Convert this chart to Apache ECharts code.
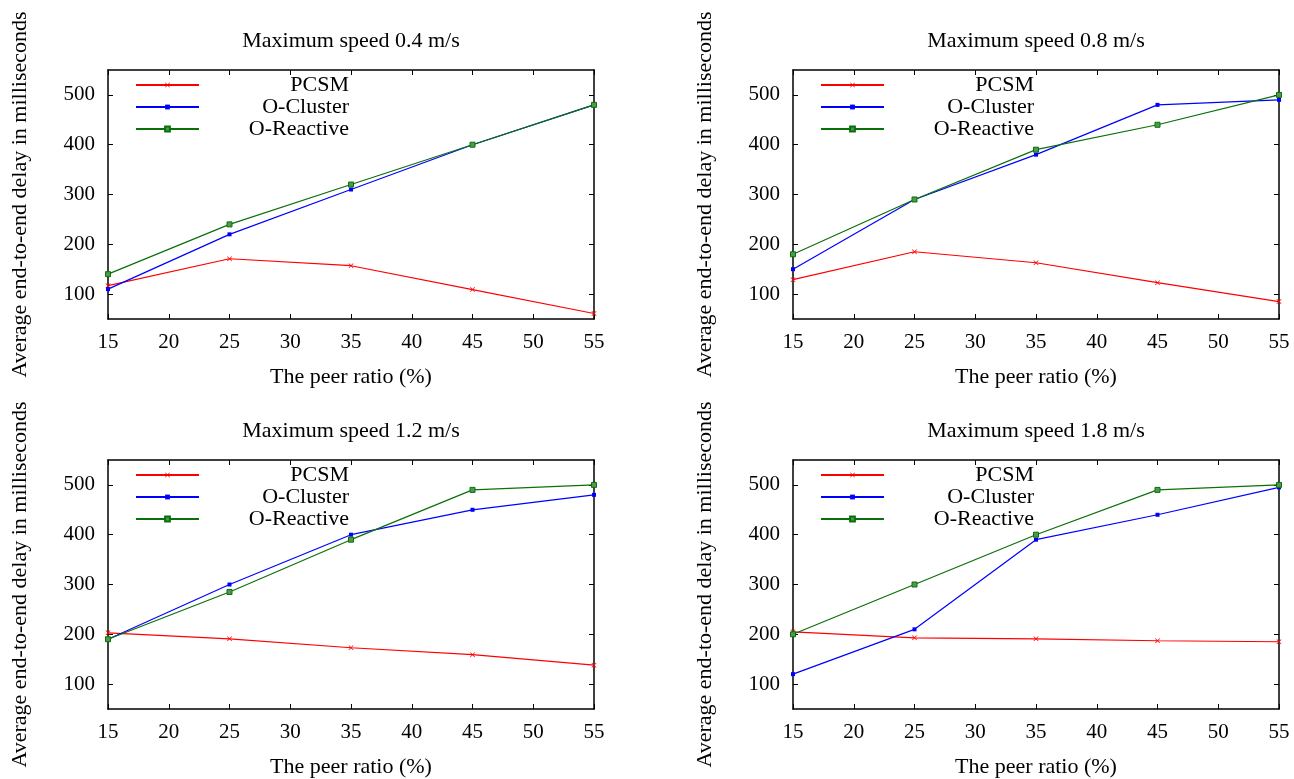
<!DOCTYPE html>
<html>
<head>
<meta charset="utf-8">
<script src="https://cdn.jsdelivr.net/npm/echarts@6/dist/echarts.min.js"></script>
<style>html,body{margin:0;padding:0;background:#fff}#c{width:1294px;height:779px}</style>
</head>
<body>
<div id="c"></div>
<script>
// ---- data ----
const peerRatio = [15, 25, 35, 45, 55];
const seriesNames = ['PCSM', 'O-Cluster', 'O-Reactive'];
const panelTitles = ['Maximum speed 0.4 m/s', 'Maximum speed 0.8 m/s', 'Maximum speed 1.2 m/s', 'Maximum speed 1.8 m/s'];
const yTickValues = [100, 200, 300, 400, 500];
const xAxisTitle = 'The peer ratio (%)';
const yAxisTitle = 'Average end-to-end delay in milliseconds';

const pcsm04 = [117, 171, 157, 109, 61];
const ocluster04 = [110, 220, 310, 400, 480];
const oreactive04 = [140, 240, 320, 400, 480];

const pcsm08 = [129, 185, 163, 123, 85];
const ocluster08 = [150, 290, 380, 480, 490];
const oreactive08 = [180, 290, 390, 440, 500];

const pcsm12 = [203, 191, 173, 159, 138];
const ocluster12 = [190, 300, 400, 450, 480];
const oreactive12 = [190, 285, 390, 490, 500];

const pcsm18 = [205, 193, 191, 187, 185];
const ocluster18 = [120, 210, 390, 440, 495];
const oreactive18 = [200, 300, 400, 490, 500];

const panels = [
  [pcsm04, ocluster04, oreactive04],
  [pcsm08, ocluster08, oreactive08],
  [pcsm12, ocluster12, oreactive12],
  [pcsm18, ocluster18, oreactive18]
];

// ---- styling / layout ----
const FONT = "'Liberation Serif', 'Times New Roman', serif";
const gridPos = [
  {left: 108, top: 70}, {left: 793, top: 70},
  {left: 108, top: 460}, {left: 793, top: 460}
];
const GW = 486, GH = 249;
const colors = ['#ff0000', '#0000ff', '#0a700a'];
const symbols = [
  'path://M0,1L1,0L5,4L9,0L10,1L6,5L10,9L9,10L5,6L1,10L0,9L4,5Z',
  'rect',
  'rect'
];
const symbolSizes = [5, 4, 5];
const fills = ['#ff0000', '#0000ff', '#4d9a4d'];

const option = {
  animation: false,
  backgroundColor: '#fff',
  textStyle: {fontFamily: FONT},
  title: [], grid: [], xAxis: [], yAxis: [], legend: [], series: []
};

const axisLineStyle = {show: true, lineStyle: {color: '#000', width: 1.5}};
const tickStyle = {show: true, inside: true, length: 5, lineStyle: {color: '#000', width: 1}};

gridPos.forEach((g, i) => {
  option.grid.push({left: g.left, top: g.top, width: GW, height: GH, containLabel: false});
  option.title.push({
    text: panelTitles[i],
    left: g.left + GW / 2 - 5, top: g.top - 45, textAlign: 'center',
    textStyle: {fontFamily: FONT, fontSize: 22, fontWeight: 'normal', color: '#000'}
  });
  // bottom x axis
  option.xAxis.push({
    type: 'value', gridIndex: i, min: 15, max: 55, interval: 5, position: 'bottom',
    name: xAxisTitle, nameLocation: 'middle', nameGap: 47,
    nameTextStyle: {fontFamily: FONT, fontSize: 22, color: '#000'},
    axisLine: axisLineStyle, axisTick: tickStyle,
    axisLabel: {fontFamily: FONT, fontSize: 21, color: '#000', margin: 13},
    splitLine: {show: false}
  });
  // top mirror x axis
  option.xAxis.push({
    type: 'value', gridIndex: i, min: 15, max: 55, interval: 5, position: 'top',
    axisLine: axisLineStyle, axisTick: tickStyle, axisLabel: {show: false}, splitLine: {show: false}
  });
  // left y axis
  option.yAxis.push({
    type: 'value', gridIndex: i, min: 50, max: 550, position: 'left',
    name: yAxisTitle, nameLocation: 'middle', nameGap: 77,
    nameTextStyle: {fontFamily: FONT, fontSize: 22, color: '#000'},
    axisLine: axisLineStyle,
    axisTick: Object.assign({}, tickStyle, {customValues: yTickValues}),
    axisLabel: {fontFamily: FONT, fontSize: 21, color: '#000', margin: 13, customValues: yTickValues},
    splitLine: {show: false}
  });
  // right mirror y axis
  option.yAxis.push({
    type: 'value', gridIndex: i, min: 50, max: 550, position: 'right',
    axisLine: axisLineStyle,
    axisTick: Object.assign({}, tickStyle, {customValues: yTickValues}),
    axisLabel: {show: false}, splitLine: {show: false}
  });
  option.legend.push({
    orient: 'vertical', left: g.left + 22, top: g.top - 1,
    itemWidth: 63, itemHeight: 6, itemGap: 0,
    data: seriesNames,
    formatter: name => '{t|' + name + '}',
    textStyle: {rich: {t: {fontFamily: FONT, fontSize: 22, color: '#000', width: 145, align: 'right', lineHeight: 22}}},
    selectedMode: false
  });
  panels[i].forEach((vals, s) => {
    option.series.push({
      name: seriesNames[s], type: 'line',
      xAxisIndex: 2 * i, yAxisIndex: 2 * i,
      data: peerRatio.map((x, k) => [x, vals[k]]),
      symbol: symbols[s], symbolSize: symbolSizes[s], showSymbol: true,
      lineStyle: {color: colors[s], width: 1.2},
      itemStyle: {color: fills[s], borderColor: colors[s], borderWidth: s === 2 ? 1 : 0},
      z: 3 + s
    });
  });
});

const chart = echarts.init(document.getElementById('c'), null, {renderer: 'canvas'});
chart.setOption(option);
</script>
</body>
</html>
